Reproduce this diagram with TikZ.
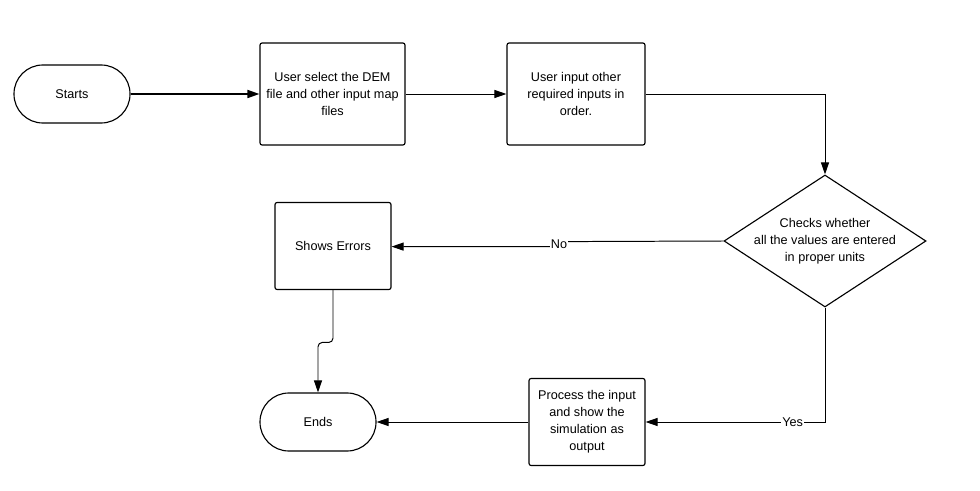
\documentclass[tikz,border=0pt]{standalone}
\usepackage{fontspec}
\setmainfont{Liberation Sans}
\usetikzlibrary{shapes.geometric,arrows.meta}

\begin{document}
\begin{tikzpicture}[>={Triangle[length=3mm,width=2mm]},
   font=\fontsize{9}{12}\selectfont,
   term/.style={draw,line width=0.8pt,rounded corners=0.72cm,minimum width=2.9cm,minimum height=1.45cm},
   proc/.style={draw,line width=0.8pt,rounded corners=1.5pt,align=center},
   chk/.style={draw,line width=0.8pt,diamond,aspect=1.53,inner sep=-1.6pt,minimum width=5.05cm,minimum height=3.3cm,align=center},
   lbl/.style={fill=white,inner sep=1pt}]
   \useasboundingbox (0,0) rectangle (24.5,-12.275);
   \node[term] (start) at (1.8,-2.35) {Starts};
   \node[proc,minimum width=3.625cm,minimum height=2.55cm] (sel) at (8.3125,-2.35)
     {User select the DEM\\file and other input map\\files};
   \node[proc,minimum width=3.45cm,minimum height=2.55cm] (inp) at (14.4,-2.35)
     {User input other\\required inputs in\\order.};
   \node[chk] (check) at (20.625,-6.025)
     {Checks whether\\all the values are entered\\in proper units};
   \node[proc,minimum width=2.9cm,minimum height=2.175cm] (err) at (8.325,-6.15) {Shows Errors};
   \node[term] (ends) at (7.95,-10.55) {Ends};
   \node[proc,minimum width=2.9cm,minimum height=2.175cm] (sim) at (14.675,-10.55)
     {Process the input\\and show the\\simulation as\\output};
   \draw[->,line width=1.2pt] (start) -- (sel);
   \draw[->,line width=0.7pt] (sel) -- (inp);
   \draw[->,line width=0.7pt] (inp.east) -| (check.north);
   \draw[->,line width=0.7pt] (check.west) -- (14.1,-6.04) -- (13.85,-6.165)
     node[lbl,pos=0.5]{No} -- (err.east |- 0,-6.165);
   \draw[->,line width=0.7pt] (check.south) |- node[lbl,pos=0.59]{Yes} (sim.east);
   \draw[->,line width=0.7pt] (sim) -- (ends);
   \draw[->,line width=0.7pt,rounded corners=3pt] (err.south) -- ++(0,-1.31) -| (ends.north);
\end{tikzpicture}
\end{document}
